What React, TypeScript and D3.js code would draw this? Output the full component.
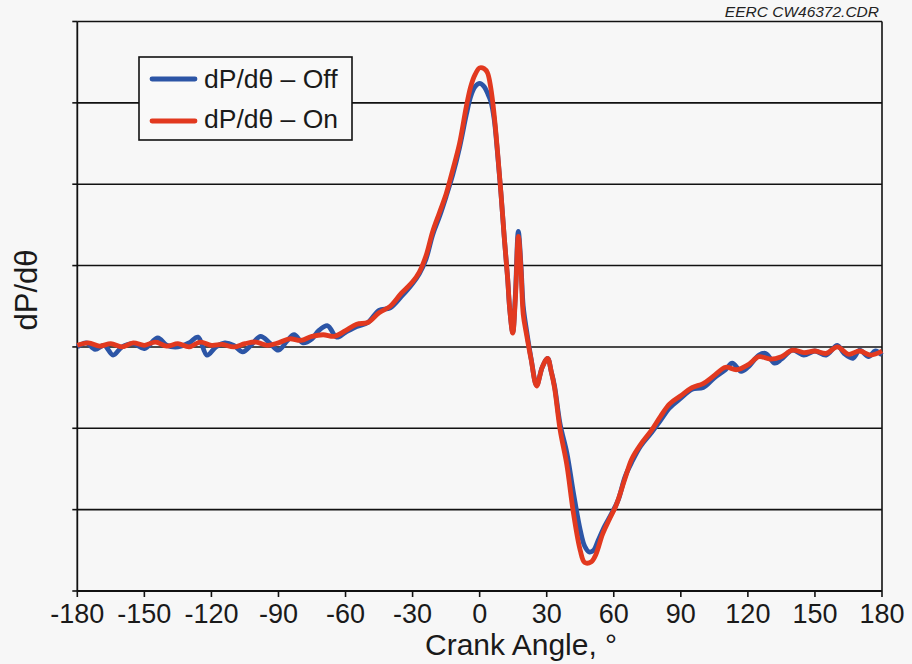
import React from "react";
import * as d3 from "d3";

// Crank angle (deg) and dP/dθ readings, injector Off
const offAngles = [-180, -176, -172, -168, -164, -160, -155, -150, -144, -140, -135, -130, -126, -122, -118, -114, -110, -106, -102, -98, -94, -90, -86, -83, -79, -75, -72, -68, -64, -60, -55, -50, -45, -40, -35, -30, -27, -24, -21, -18, -15, -12, -9, -6, -4, -2, 0, 2, 3.5, 5, 6.5, 8, 9.5, 11, 12.5, 13.5, 14.8, 16, 17.3, 18.5, 19.5, 21, 23, 25.5, 28, 30.4, 32, 33.5, 36, 39, 42, 45, 47, 49, 51, 53, 56, 59, 62, 65, 68, 72, 77, 81, 85, 90, 95, 100, 105, 110, 113, 117, 120, 125, 128, 132, 135, 140, 145, 150, 155, 160, 163, 167, 170, 174, 177, 180];
const offValues = [0.0, 0.05, -0.03, 0.02, -0.1, 0.0, 0.04, -0.02, 0.11, 0.02, 0.0, 0.05, 0.12, -0.1, 0.0, 0.05, 0.02, -0.06, 0.03, 0.13, 0.05, -0.04, 0.08, 0.15, 0.05, 0.1, 0.2, 0.26, 0.12, 0.18, 0.25, 0.3, 0.45, 0.48, 0.62, 0.78, 0.9, 1.08, 1.38, 1.6, 1.85, 2.12, 2.45, 2.85, 3.08, 3.2, 3.24, 3.2, 3.12, 3.02, 2.8, 2.38, 1.9, 1.35, 0.85, 0.45, 0.18, 0.65, 1.42, 1.0, 0.5, 0.2, -0.14, -0.47, -0.25, -0.14, -0.3, -0.48, -0.95, -1.3, -1.8, -2.25, -2.45, -2.52, -2.5, -2.38, -2.2, -2.05, -1.88, -1.6, -1.42, -1.22, -1.05, -0.9, -0.75, -0.63, -0.52, -0.5, -0.38, -0.28, -0.2, -0.3, -0.25, -0.1, -0.08, -0.2, -0.15, -0.04, -0.1, -0.05, -0.1, 0.02, -0.08, -0.14, -0.04, -0.12, -0.05, -0.1];

// Crank angle (deg) and dP/dθ readings, injector On
const onAngles = [-180, -175, -170, -165, -160, -155, -150, -145, -140, -135, -130, -125, -120, -115, -110, -105, -100, -95, -90, -85, -80, -75, -70, -65, -60, -55, -50, -45, -40, -35, -30, -27, -24, -21, -18, -15, -12, -9, -6, -4, -2, 0, 2, 3.5, 5, 6.5, 8, 9.5, 11, 12.5, 13.5, 14.8, 16, 17.3, 18.5, 19.5, 21, 23, 25.5, 28, 30.4, 32, 33.5, 36, 39, 42, 45, 47, 50, 52, 55, 58, 61, 65, 68, 72, 77, 81, 85, 90, 95, 100, 105, 110, 115, 120, 125, 130, 135, 140, 145, 150, 155, 160, 165, 170, 175, 180];
const onValues = [0.02, 0.05, 0.01, 0.04, 0.0, 0.05, 0.02, 0.06, 0.01, 0.04, 0.0, 0.06, 0.02, 0.03, 0.0, 0.04, 0.06, 0.02, 0.05, 0.1, 0.08, 0.13, 0.15, 0.13, 0.2, 0.28, 0.3, 0.42, 0.5, 0.66, 0.8, 0.92, 1.12, 1.42, 1.65, 1.88, 2.18, 2.5, 2.95, 3.2, 3.35, 3.43, 3.42, 3.37, 3.18, 2.85, 2.4, 1.9, 1.35, 0.85, 0.45, 0.17, 0.6, 1.36, 0.95, 0.4, 0.15, -0.15, -0.48, -0.25, -0.14, -0.3, -0.5, -1.02, -1.45, -2.05, -2.5, -2.65, -2.64, -2.55, -2.3, -2.12, -1.95, -1.62, -1.38, -1.2, -1.02, -0.85, -0.7, -0.6, -0.5, -0.45, -0.35, -0.25, -0.28, -0.22, -0.12, -0.15, -0.12, -0.04, -0.07, -0.05, -0.08, 0.0, -0.09, -0.05, -0.1, -0.05];

const xTicks = [-180, -150, -120, -90, -60, -30, 0, 30, 60, 90, 120, 150, 180];
const yGrid = [3, 2, 1, 0, -1, -2];
const yTicks = [4, 3, 2, 1, 0, -1, -2, -3];

const seriesNames = ["dP/dθ – Off", "dP/dθ – On"];
const seriesColors = ["#2c55a6", "#e2391f"];

const W = 912;
const H = 664;
const left = 77.3;
const right = 882;
const top = 21.5;
const bottom = 591;

export default function App() {
  const x = d3.scaleLinear().domain([-180, 180]).range([left, right]);
  const y = d3.scaleLinear().domain([-3, 4]).range([bottom, top]);

  const line = d3
    .line<[number, number]>()
    .x((d) => x(d[0]))
    .y((d) => y(d[1]))
    .curve(d3.curveCatmullRom.alpha(0.5));

  const offPts = offAngles.map((a, i) => [a, offValues[i]] as [number, number]);
  const onPts = onAngles.map((a, i) => [a, onValues[i]] as [number, number]);

  const font = "'Liberation Sans', Arial, Helvetica, sans-serif";

  return (
    <svg
      width={W}
      height={H}
      viewBox={`0 0 ${W} ${H}`}
      style={{ position: "absolute", left: 0, top: 0, display: "block" }}
      fontFamily={font}
    >
      <rect x={0} y={0} width={W} height={H} fill="#f7f7f7" />

      {/* grid */}
      {yGrid.map((v) => (
        <line key={v} x1={left} x2={right} y1={y(v)} y2={y(v)} stroke="#111" strokeWidth={1.6} />
      ))}

      {/* frame */}
      <line x1={left} x2={right} y1={top} y2={top} stroke="#111" strokeWidth={1.6} />
      <line x1={right} x2={right} y1={top} y2={bottom} stroke="#111" strokeWidth={1.6} />
      <line x1={left} x2={left} y1={top} y2={bottom} stroke="#111" strokeWidth={1.8} />
      <line x1={left} x2={right} y1={bottom} y2={bottom} stroke="#111" strokeWidth={1.8} />

      {/* y ticks */}
      {yTicks.map((v) => (
        <line key={v} x1={left - 5} x2={left} y1={y(v)} y2={y(v)} stroke="#111" strokeWidth={1.6} />
      ))}

      {/* x ticks and labels */}
      {xTicks.map((v) => (
        <g key={v}>
          <line x1={x(v)} x2={x(v)} y1={bottom} y2={bottom + 6} stroke="#111" strokeWidth={1.6} />
          <text x={x(v)} y={623} textAnchor="middle" fontSize={27} fill="#1a1a1a">
            {v}
          </text>
        </g>
      ))}

      {/* curves */}
      <path d={line(offPts) || ""} fill="none" stroke={seriesColors[0]} strokeWidth={4.8} strokeLinejoin="round" />
      <path d={line(onPts) || ""} fill="none" stroke={seriesColors[1]} strokeWidth={4.8} strokeLinejoin="round" />

      {/* legend */}
      <rect x={139} y={57} width={213} height={83} fill="#f9f9f9" stroke="#111" strokeWidth={1.6} />
      {seriesNames.map((name, i) => (
        <g key={name}>
          <line x1={152} x2={195} y1={79 + i * 42} y2={79 + i * 42} stroke={seriesColors[i]} strokeWidth={4.8} strokeLinecap="round" />
          <text x={204} y={88 + i * 40} fontSize={26.5} fill="#1a1a1a">
            {name}
          </text>
        </g>
      ))}

      {/* axis titles */}
      <text x={425} y={655} fontSize={30} fill="#1a1a1a">
        Crank Angle, °
      </text>
      <text transform="translate(37,290) rotate(-90)" textAnchor="middle" fontSize={31} fill="#1a1a1a">
        dP/dθ
      </text>

      <text x={879} y={17} textAnchor="end" fontSize={15.5} fontStyle="italic" fill="#222">
        EERC CW46372.CDR
      </text>
    </svg>
  );
}
